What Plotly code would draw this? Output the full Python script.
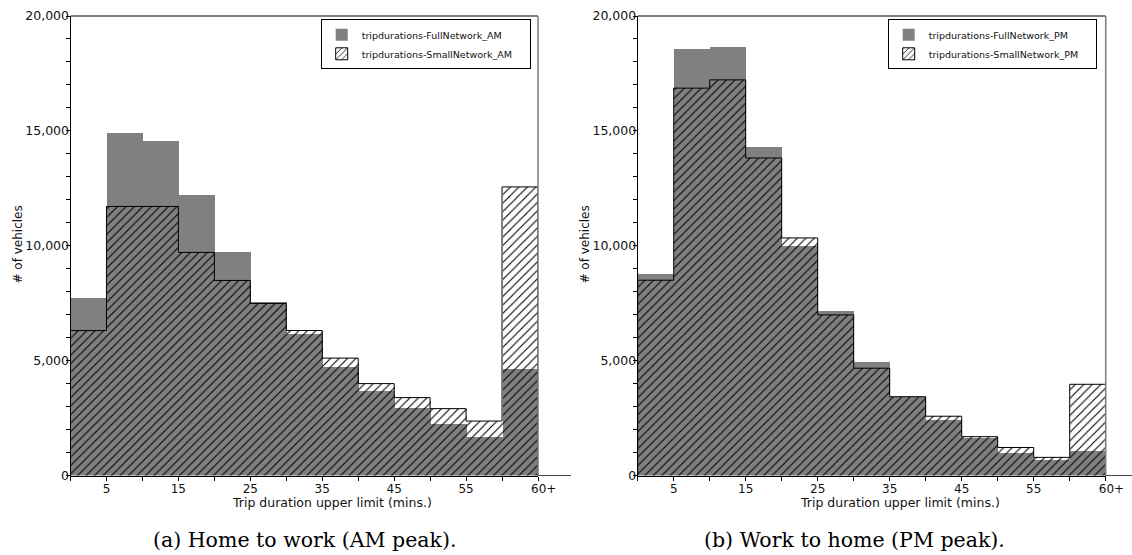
import plotly.graph_objects as go

# ---------------- data ----------------
bin_upper = [5, 10, 15, 20, 25, 30, 35, 40, 45, 50, 55, 60, 65]   # 65 == "60+"
tick_vals = [5, 15, 25, 35, 45, 55, 65]
tick_text = ["5", "15", "25", "35", "45", "55", "\u00a0\u00a0\u00a060+"]
y_ticks = [0, 5000, 10000, 15000, 20000]

full_am = [7720, 14900, 14580, 12190, 9730, 7570, 6150, 4710, 3680, 2940, 2240, 1690, 4630]
small_am = [6310, 11710, 11710, 9710, 8490, 7490, 6310, 5110, 4000, 3390, 2910, 2370, 12560]
full_pm = [8770, 18570, 18640, 14310, 9980, 7170, 4920, 3420, 2420, 1650, 990, 680, 1070]
small_pm = [8500, 16860, 17220, 13820, 10340, 6990, 4670, 3430, 2580, 1690, 1220, 790, 3970]

names_am = ["tripdurations-FullNetwork_AM", "tripdurations-SmallNetwork_AM"]
names_pm = ["tripdurations-FullNetwork_PM", "tripdurations-SmallNetwork_PM"]
captions = ["(a) Home to work (AM peak).", "(b) Work to home (PM peak)."]
x_title = "Trip duration upper limit (mins.)"
y_title = "# of vehicles"

# ---------------- layout helpers ----------------
W, H = 1132, 555
def px(x):
    return x / W
def py(y):
    return 1 - y / H

BW = 5
centers = [u - BW / 2 for u in bin_upper]
edges = [0] + bin_upper

fig = go.Figure()

GREY = "#808080"
SANS = "DejaVu Sans"

panels = [
    dict(full=full_am, small=small_am, names=names_am, xa="x", ya="y", leg="legend"),
    dict(full=full_pm, small=small_pm, names=names_pm, xa="x2", ya="y2", leg="legend2"),
]

for p in panels:
    # grey bars (full network)
    fig.add_trace(go.Bar(
        x=centers, y=p["full"], width=BW, name=p["names"][0],
        marker=dict(color=GREY, line=dict(width=0)),
        xaxis=p["xa"], yaxis=p["ya"], legend=p["leg"], showlegend=True,
    ))
    # hatched bars (small network)
    fig.add_trace(go.Bar(
        x=centers, y=p["small"], width=BW, name=p["names"][1],
        marker=dict(color="black", line=dict(width=0),
                    pattern=dict(shape="/", fgcolor="black", bgcolor="rgba(0,0,0,0)",
                                 size=6, solidity=0.18, fillmode="replace")),
        xaxis=p["xa"], yaxis=p["ya"], legend=p["leg"], showlegend=False,
    ))
    # step outline of hatched histogram
    sx = [edges[0]] + edges[:-1] + [edges[-1], edges[-1]]
    sy = [0] + p["small"] + [p["small"][-1], 0]
    fig.add_trace(go.Scatter(
        x=sx, y=sy, mode="lines", line=dict(color="black", width=1, shape="hv"),
        xaxis=p["xa"], yaxis=p["ya"], showlegend=False, hoverinfo="skip",
    ))
    # legend-only hatched entry with outline
    fig.add_trace(go.Bar(
        x=[None], y=[None], name=p["names"][1] + "\u00a0\u00a0\u00a0\u00a0",
        marker=dict(color="black", line=dict(width=1, color="black"),
                    pattern=dict(shape="/", fgcolor="black", bgcolor="white",
                                 size=5, solidity=0.2, fillmode="replace")),
        xaxis=p["xa"], yaxis=p["ya"], legend=p["leg"], showlegend=True,
    ))

xdom = [(70.5, 538.0), (637.7, 1105.7)]
ydom = [py(475.5), py(16)]

axis_common = dict(
    showgrid=False, zeroline=False, showline=True, linecolor="black", linewidth=1,
    ticks="outside", ticklen=4, tickcolor="black", tickwidth=1, automargin=False,
)

for i, (x0, x1) in enumerate(xdom):
    sfx = "" if i == 0 else str(i + 1)
    fig.layout["xaxis" + sfx] = dict(
        axis_common, domain=[px(x0), px(x1)], range=[0, 65],
        tickmode="array", tickvals=tick_vals, ticktext=tick_text,
        tickfont=dict(family=SANS, size=12, color="#111"),
        ticklabelstandoff=-2,
        minor=dict(tick0=0, dtick=5, ticks="outside", ticklen=4, tickcolor="black"),
        anchor="y" + sfx, fixedrange=True,
    )
    fig.layout["yaxis" + sfx] = dict(
        axis_common, domain=ydom, range=[0, 20000],
        tickmode="array", tickvals=y_ticks, tickformat=",d",
        tickfont=dict(family=SANS, size=12.5, color="#111"),
        ticklabelstandoff=-6,
        minor=dict(dtick=1000, ticks="outside", ticklen=4, tickcolor="black"),
        anchor="x" + sfx, fixedrange=True,
    )

shapes = []
annotations = []
leg_left = [320.7, 887.7]
xt_center = [331.5, 899.5]
yt_x = [17.5, 584.5]
cap_x = [305.5, 854.0]
for i, (x0, x1) in enumerate(xdom):
    # top border
    shapes.append(dict(type="line", xref="paper", yref="paper", x0=px(x0), x1=px(x1),
                       y0=py(16), y1=py(16), line=dict(color="black", width=1)))
    # right border (grey)
    shapes.append(dict(type="line", xref="paper", yref="paper", x0=px(x1), x1=px(x1),
                       y0=py(475.5), y1=py(16), line=dict(color="#7a7a7a", width=1.5)))
    # x-axis line extension past right border
    shapes.append(dict(type="line", xref="paper", yref="paper", x0=px(x1), x1=px(x1 + 33),
                       y0=py(475.5), y1=py(475.5), line=dict(color="#444", width=1)))
    annotations.append(dict(text=x_title, xref="paper", yref="paper", x=px(xt_center[i]),
                            y=py(502), xanchor="center", yanchor="middle", showarrow=False,
                            font=dict(family=SANS, size=12.5, color="#111")))
    annotations.append(dict(text=y_title, xref="paper", yref="paper", x=px(yt_x[i]),
                            y=py(245), xanchor="center", yanchor="middle", showarrow=False,
                            textangle=-90, font=dict(family=SANS, size=12, color="#111")))
    annotations.append(dict(text=captions[i], xref="paper", yref="paper", x=px(cap_x[i]),
                            y=py(540), xanchor="center", yanchor="middle", showarrow=False,
                            font=dict(family="DejaVu Serif", size=20.5, color="black")))

legend_style = dict(
    yanchor="top", xanchor="left", y=py(19.3),
    bgcolor="white", bordercolor="black", borderwidth=1,
    font=dict(family=SANS, size=9.5, color="#111"), tracegroupgap=0,
    itemclick=False, itemdoubleclick=False,
)

fig.update_layout(
    width=W, height=H, margin=dict(l=0, r=0, t=0, b=0),
    paper_bgcolor="white", plot_bgcolor="white",
    barmode="overlay", bargap=0,
    shapes=shapes, annotations=annotations,
    legend=dict(legend_style, x=px(leg_left[0])),
    legend2=dict(legend_style, x=px(leg_left[1])),
)

fig.write_html("out.html")
